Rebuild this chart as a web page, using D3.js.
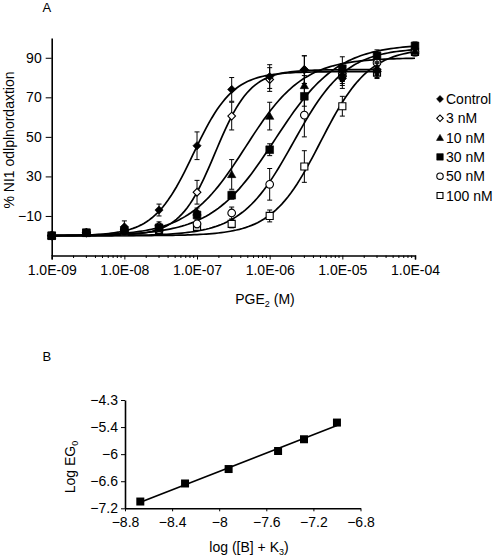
<!DOCTYPE html>
<html><head><meta charset="utf-8">
<script src="https://cdn.jsdelivr.net/npm/d3@7"></script>
<style>body{margin:0;background:#fff}svg{display:block;font-family:"Liberation Sans",Arial,sans-serif}</style>
</head><body><svg id="c" width="501" height="559"></svg>
<script>
// ---------- Panel A data ----------
const doses = [1e-9, 3e-9, 1e-8, 3e-8, 1e-7, 3e-7, 1e-6, 3e-6, 1e-5, 3e-5, 1e-4];
const seriesNames = ["Control", "3 nM", "10 nM", "30 nM", "50 nM", "100 nM"];
const controlVals = [0, 1.5, 4.5, 13, 45.5, 74, 80.5, 84, 79.5, 83];
const nM3Vals     = [0, 1.5, 3, 5, 22, 60.5, 79, 84, 82, 84];
const nM10Vals    = [0, 1.5, 2.5, 4, 12, 31, 60.5, 76, 82, 84.5, 93.5];
const nM30Vals    = [0, 1.5, 2.5, 4, 10.5, 20.5, 43.5, 70.5, 84.5, 91, 96];
const nM50Vals    = [0, 1.5, 2.5, 3, 6, 11.5, 26, 61, 81, 87.5, 93];
const nM100Vals   = [0, 1.5, 2, 3, 4.5, 6, 10, 35, 65.5, 82.5, 93];
const controlErr  = [1, 1, 3, 3, 7, 6, 6, 7, 5, 3];
const nM3Err      = [1, 1, 2, 2, 6, 7, 6, 7, 4, 3];
const nM10Err     = [1, 1, 1, 2, 2, 7.5, 7, 5, 5, 3, 2];
const nM30Err     = [1, 1, 1, 1, 2, 2, 3, 5, 6, 3, 2];
const nM50Err     = [1, 1, 1, 1, 2, 3, 8, 11, 5, 3, 2];
const nM100Err    = [1, 1, 1, 1, 1, 2, 3, 8, 5, 3, 2];
// fitted sigmoid curve parameters
const fitLogEC50 = [-7.05, -6.75, -6.33, -5.93, -5.67, -5.30];
const fitTop     = [83, 84, 90, 97, 95, 95];
const fitHill    = [1.6, 1.8, 1.1, 1.0, 1.2, 1.3];
const yTickValuesA = [10, 30, 50, 70, 90];
const yTickLabelsA = ["\u221210", "30", "50", "70", "90"];
const xTickValuesA = [1e-9, 1e-8, 1e-7, 1e-6, 1e-5, 1e-4];
const xTickLabelsA = ["1.0E-09", "1.0E-08", "1.0E-07", "1.0E-06", "1.0E-05", "1.0E-04"];

// ---------- Panel B data ----------
const schildX = [-8.67, -8.29, -7.92, -7.50, -7.28, -7.00];
const schildY = [-7.05, -6.65, -6.33, -5.93, -5.67, -5.30];
const yTickValuesB = [-7.2, -6.6, -6, -5.4, -4.8];
const yTickLabelsB = ["\u22127.2", "\u22126.6", "\u22126", "\u22125.4", "\u22124.3"];
const xTickValuesB = [-8.8, -8.4, -8, -7.6, -7.2, -6.8];
const xTickLabelsB = ["\u22128.8", "\u22128.4", "\u22128", "\u22127.6", "\u22127.2", "\u22126.8"];

const seriesVals = [controlVals, nM3Vals, nM10Vals, nM30Vals, nM50Vals, nM100Vals];
const seriesErr = [controlErr, nM3Err, nM10Err, nM30Err, nM50Err, nM100Err];
const markerDefs = [
  {shape: "diamond", fill: true, size: 34},
  {shape: "diamond", fill: false, size: 30},
  {shape: "triangle", fill: true, size: 30},
  {shape: "square", fill: true, size: 60},
  {shape: "circle", fill: false, size: 46},
  {shape: "square", fill: false, size: 50}
];
const drawOrder = [5, 4, 1, 2, 0, 3];

const svg = d3.select("#c");
const black = "#000";

function symbolPath(def, scale) {
  const s = def.size * (scale || 1);
  if (def.shape === "diamond") return d3.symbol(d3.symbolSquare, s)();
  if (def.shape === "triangle") return d3.symbol(d3.symbolTriangle, s)();
  if (def.shape === "square") return d3.symbol(d3.symbolSquare, s)();
  return d3.symbol(d3.symbolCircle, s)();
}
function drawMarker(g, def, x, y, scale) {
  g.append("path")
    .attr("d", symbolPath(def, scale))
    .attr("transform", `translate(${x},${y})` + (def.shape === "diamond" ? " rotate(45)" : "") + (def.shape === "triangle" ? " translate(0,0.8)" : ""))
    .attr("fill", def.fill ? black : "#fff")
    .attr("stroke", black)
    .attr("stroke-width", def.fill ? 0.6 : 1.1);
}

// ---------- Panel A ----------
const xA = d3.scaleLog().domain([1e-9, 1e-4]).range([51.7, 415]);
const yA = d3.scaleLinear().domain([-10, 100]).range([255.5, 38]);
const gA = svg.append("g");

svg.append("text").attr("x", 42.5).attr("y", 11.8).attr("font-size", 13).text("A");

const xAxisA = d3.axisBottom(xA).tickValues(xTickValuesA).tickFormat((d, i) => xTickLabelsA[i]).tickSize(4).tickPadding(6);
const gxA = gA.append("g").attr("transform", "translate(0,255.5)").call(xAxisA);
gxA.select(".domain").attr("stroke-width", 1.6);
gxA.selectAll(".tick text").attr("font-size", 14).attr("font-family", "Liberation Sans, Arial, sans-serif");
const minorA = [];
xTickValuesA.slice(0, -1).forEach(d => { for (let k = 2; k <= 9; k++) minorA.push(d * k); });
gA.append("g").selectAll("line").data(minorA).join("line")
  .attr("x1", d => xA(d)).attr("x2", d => xA(d)).attr("y1", 255.5).attr("y2", 258)
  .attr("stroke", black).attr("stroke-width", 1);

const yAxisA = d3.axisLeft(yA).tickValues(yTickValuesA).tickFormat((d, i) => yTickLabelsA[i]).tickSize(6).tickSizeOuter(0).tickPadding(4);
const gyA = gA.append("g").attr("transform", "translate(51.7,0)").call(yAxisA);
gyA.select(".domain").attr("stroke-width", 1.6);
gyA.selectAll(".tick text").attr("font-size", 14).attr("font-family", "Liberation Sans, Arial, sans-serif");

svg.append("text").attr("transform", "translate(13.5,140) rotate(-90)").attr("text-anchor", "middle")
  .attr("font-size", 14).text("% NI1 odlplnordaxtion");
const pge = svg.append("text").attr("x", 265).attr("y", 304).attr("text-anchor", "middle").attr("font-size", 14);
pge.append("tspan").text("PGE");
pge.append("tspan").attr("font-size", 9).attr("dy", 3).text("2");
pge.append("tspan").attr("dy", -3).text(" (M)");

// fitted curves
seriesVals.forEach((vals, si) => {
  const lastDose = doses[vals.length - 1];
  const lo = Math.log10(doses[0]), hi = Math.log10(lastDose);
  const pts = d3.range(0, 121).map(i => {
    const lx = lo + (hi - lo) * i / 120;
    const v = fitTop[si] / (1 + Math.pow(10, (fitLogEC50[si] - lx) * fitHill[si]));
    return [Math.pow(10, lx), v];
  });
  gA.append("path").datum(pts)
    .attr("d", d3.line().x(d => xA(d[0])).y(d => yA(d[1])))
    .attr("fill", "none").attr("stroke", black).attr("stroke-width", 1.7);
});

// error bars and markers
drawOrder.forEach(si => {
  const vals = seriesVals[si];
  const errs = seriesErr[si];
  const g = gA.append("g");
  vals.forEach((v, i) => {
    const x = xA(doses[i]);
    const e = errs[i];
    if (e > 1.2) {
      g.append("line").attr("x1", x).attr("x2", x).attr("y1", yA(v - e)).attr("y2", yA(v + e)).attr("stroke", black).attr("stroke-width", 1);
      [v - e, v + e].forEach(c => g.append("line").attr("x1", x - 2.5).attr("x2", x + 2.5).attr("y1", yA(c)).attr("y2", yA(c)).attr("stroke", black).attr("stroke-width", 1));
    }
  });
  vals.forEach((v, i) => drawMarker(g, markerDefs[si], xA(doses[i]), yA(v)));
});

// legend
const legYs = d3.range(seriesNames.length).map(i => 99 + i * 19.3);
seriesNames.forEach((name, i) => {
  const g = svg.append("g");
  drawMarker(g, markerDefs[i], 440, legYs[i], 0.7);
  g.append("text").attr("x", 446).attr("y", legYs[i] + 5).attr("font-size", 14).text(name);
});

// ---------- Panel B ----------
svg.append("text").attr("x", 42.5).attr("y", 360.7).attr("font-size", 13).text("B");
const xB = d3.scaleLinear().domain([-8.8, -6.8]).range([125, 360.5]);
const yB = d3.scaleLinear().domain([-7.2, -4.8]).range([508.3, 400]);
const gB = svg.append("g");
const gxB = gB.append("g").attr("transform", "translate(0,508.3)")
  .call(d3.axisBottom(xB).tickValues(xTickValuesB).tickFormat((d, i) => xTickLabelsB[i]).tickSize(3).tickSizeOuter(0).tickPadding(6));
gxB.select(".domain").attr("stroke-width", 1.6);
gxB.selectAll(".tick text").attr("font-size", 14).attr("font-family", "Liberation Sans, Arial, sans-serif");
const gyB = gB.append("g").attr("transform", "translate(125,0)")
  .call(d3.axisLeft(yB).tickValues(yTickValuesB).tickFormat((d, i) => yTickLabelsB[i]).tickSize(4).tickSizeOuter(0).tickPadding(3));
gyB.select(".domain").attr("stroke-width", 1.6);
gyB.selectAll(".tick text").attr("font-size", 14).attr("font-family", "Liberation Sans, Arial, sans-serif");

const mx = d3.mean(schildX), my = d3.mean(schildY);
const slope = d3.sum(schildX.map((x, i) => (x - mx) * (schildY[i] - my))) / d3.sum(schildX.map(x => (x - mx) ** 2));
const icpt = my - slope * mx;
const ext = d3.extent(schildX);
gB.append("line").attr("x1", xB(ext[0])).attr("x2", xB(ext[1]))
  .attr("y1", yB(icpt + slope * ext[0])).attr("y2", yB(icpt + slope * ext[1]))
  .attr("stroke", black).attr("stroke-width", 1.7);
schildX.forEach((x, i) => {
  gB.append("path").attr("d", d3.symbol(d3.symbolSquare, 64)())
    .attr("transform", `translate(${xB(x)},${yB(schildY[i])})`).attr("fill", black);
});

const ly = svg.append("text").attr("transform", "translate(75,467) rotate(-90)").attr("text-anchor", "middle").attr("font-size", 14);
ly.append("tspan").text("Log EG");
ly.append("tspan").attr("font-size", 9).attr("dy", 3).text("0");
const lx = svg.append("text").attr("x", 249).attr("y", 552).attr("text-anchor", "middle").attr("font-size", 14);
lx.append("tspan").text("log ([B] + K");
lx.append("tspan").attr("font-size", 9).attr("dy", 3).text("3");
lx.append("tspan").attr("dy", -3).text(")");
</script>
</body></html>
